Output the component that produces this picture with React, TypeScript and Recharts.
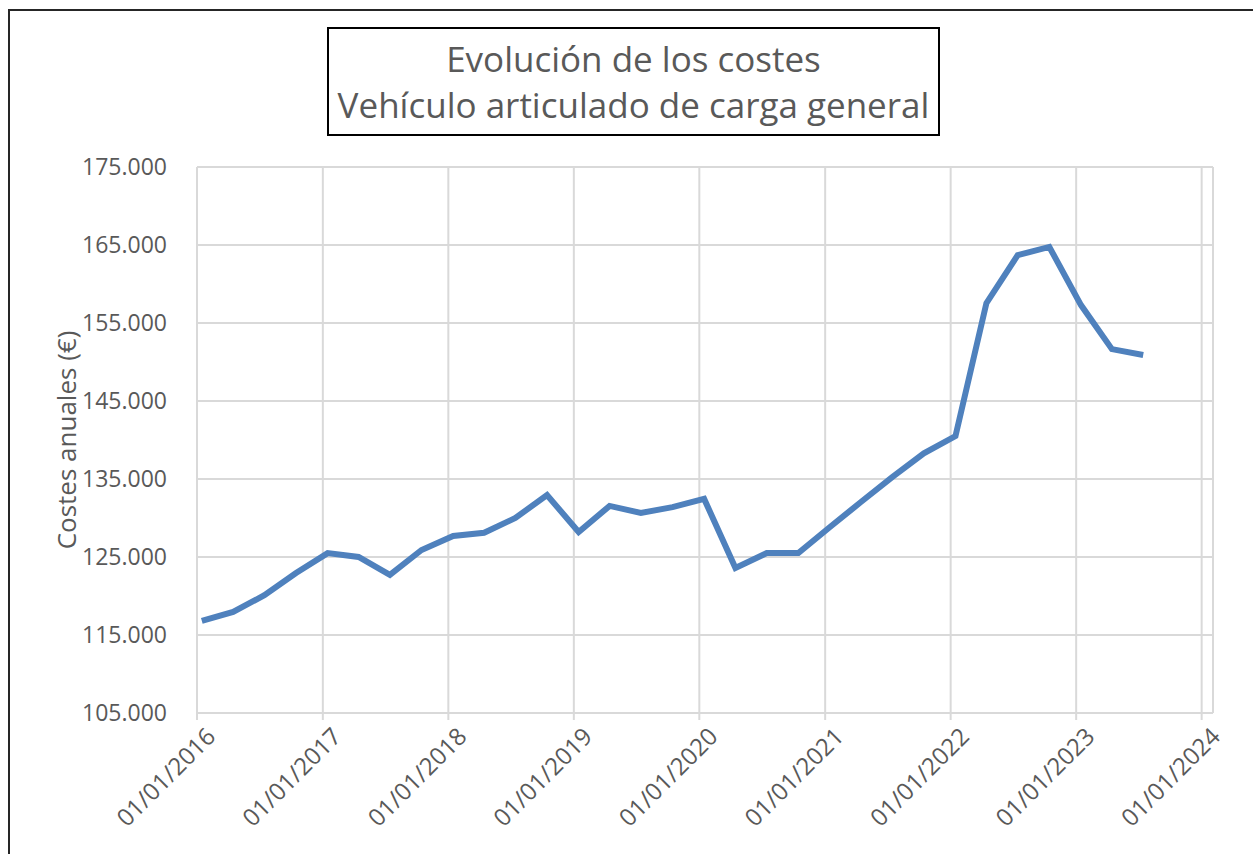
import React from "react";
import { CartesianGrid, Line, LineChart, XAxis, YAxis } from "recharts";

// quarterly observations (mid-month) and annual cost in euros
const periods = [
  "2016-01-15", "2016-04-15", "2016-07-15", "2016-10-15",
  "2017-01-15", "2017-04-15", "2017-07-15", "2017-10-15",
  "2018-01-15", "2018-04-15", "2018-07-15", "2018-10-15",
  "2019-01-15", "2019-04-15", "2019-07-15", "2019-10-15",
  "2020-01-15", "2020-04-15", "2020-07-15", "2020-10-15",
  "2021-01-15", "2021-04-15", "2021-07-15", "2021-10-15",
  "2022-01-15", "2022-04-15", "2022-07-15", "2022-10-15",
  "2023-01-15", "2023-04-15", "2023-07-15",
];
const costs = [
  116800, 117950, 120100, 122950,
  125500, 125000, 122700, 125900,
  127700, 128100, 130000, 132950,
  128200, 131550, 130650, 131400,
  132450, 123600, 125500, 125500,
  128850, 132050, 135250, 138300,
  140500, 157550, 163700, 164750,
  157300, 151650, 150900,
];
const yearTicks = ["2016", "2017", "2018", "2019", "2020", "2021", "2022", "2023", "2024"];
const costTicks = [105000, 115000, 125000, 135000, 145000, 155000, 165000, 175000];

const toTime = (s: string) => new Date(s + "T00:00:00Z").getTime();
const data = periods.map((p, i) => ({ t: toTime(p), cost: costs[i] }));
const xTicks = yearTicks.map((y) => toTime(`${y}-01-01`));
const xDomain = [toTime("2016-01-01"), toTime("2024-02-03")];

const FONT = "'Open Sans', sans-serif";
const TEXT = "#595959";
const GRID = "#d9d9d9";

const fmtCost = (v: number) => String(v).replace(/\B(?=(\d{3})+(?!\d))/g, ".");
const fmtDate = (t: number) => {
  const d = new Date(t);
  const dd = String(d.getUTCDate()).padStart(2, "0");
  const mm = String(d.getUTCMonth() + 1).padStart(2, "0");
  return `${dd}/${mm}/${d.getUTCFullYear()}`;
};

function DateTick({ x, y, payload }: any) {
  const px = x + 20;
  const py = y + 16;
  return (
    <text
      x={px}
      y={py}
      transform={`rotate(-45 ${px} ${py})`}
      textAnchor="end"
      fontSize={24}
      fontFamily={FONT}
      fill={TEXT}
    >
      {fmtDate(payload.value)}
    </text>
  );
}

function AxisTitle({ viewBox }: any) {
  const cx = 66;
  const cy = viewBox.y + viewBox.height / 2;
  return (
    <text
      x={cx}
      y={cy}
      transform={`rotate(-90 ${cx} ${cy})`}
      textAnchor="middle"
      dominantBaseline="central"
      fontSize={26}
      fontFamily={FONT}
      fill={TEXT}
    >
      Costes anuales (€)
    </text>
  );
}

export default function App() {
  return (
    <div
      style={{
        position: "absolute",
        left: 0,
        top: 0,
        width: 1253,
        height: 854,
        overflow: "hidden",
        background: "#fff",
        fontFamily: FONT,
      }}
    >
      <div
        style={{
          position: "absolute",
          left: 8,
          top: 9,
          width: 1300,
          height: 900,
          border: "2px solid #262626",
          boxSizing: "border-box",
        }}
      />
      <LineChart
        width={1253}
        height={854}
        data={data}
        margin={{ top: 167, right: 40, bottom: 21, left: 47 }}
        style={{ position: "absolute", left: 0, top: 0 }}
      >
        <CartesianGrid stroke={GRID} strokeWidth={2} />
        <XAxis
          dataKey="t"
          type="number"
          domain={xDomain}
          ticks={xTicks}
          allowDataOverflow
          tick={<DateTick />}
          tickLine={{ stroke: GRID, strokeWidth: 2 }}
          tickSize={7}
          axisLine={{ stroke: GRID, strokeWidth: 2 }}
          height={120}
          interval={0}
        />
        <YAxis
          type="number"
          domain={[105000, 175000]}
          ticks={costTicks}
          tickFormatter={fmtCost}
          tick={{ fontSize: 23, fontFamily: FONT, fill: TEXT }}
          axisLine={false}
          tickLine={false}
          tickMargin={24}
          width={150}
          interval={0}
          label={<AxisTitle />}
        />
        <Line
          dataKey="cost"
          type="linear"
          stroke="#4f81bd"
          strokeWidth={6}
          dot={false}
          isAnimationActive={false}
        />
      </LineChart>
      <div
        style={{
          position: "absolute",
          left: 327,
          top: 27,
          width: 613,
          height: 109,
          border: "2px solid #000",
          boxSizing: "border-box",
          background: "#fff",
          display: "flex",
          flexDirection: "column",
          alignItems: "center",
          justifyContent: "center",
          color: TEXT,
          fontSize: 35,
          lineHeight: "46px",
          whiteSpace: "nowrap",
        }}
      >
        <div>Evolución de los costes</div>
        <div>Vehículo articulado de carga general</div>
      </div>
    </div>
  );
}
